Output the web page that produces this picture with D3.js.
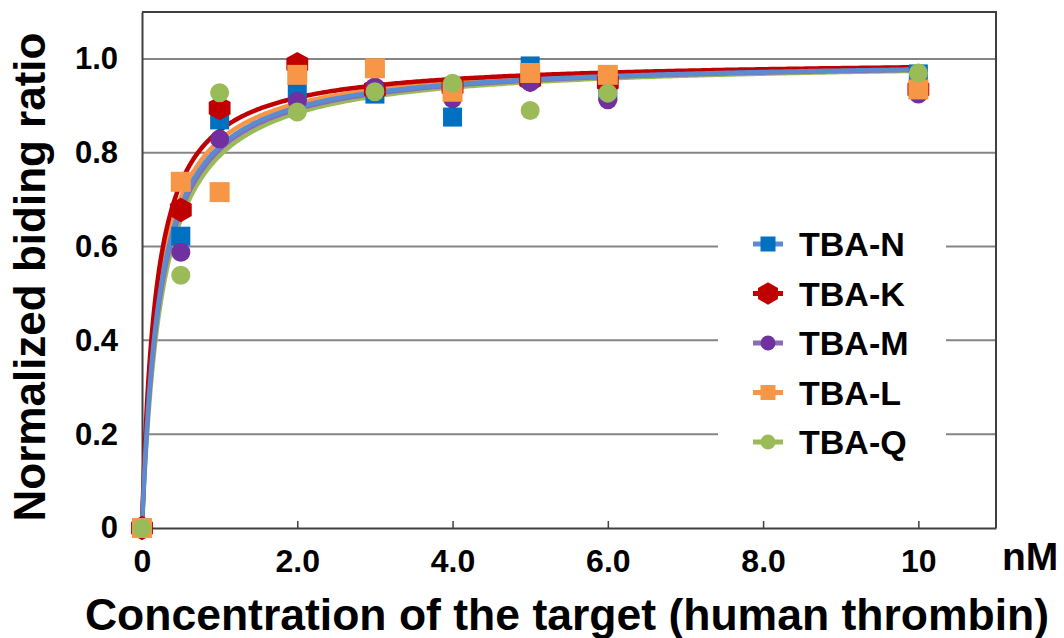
<!DOCTYPE html>
<html>
<head>
<meta charset="utf-8">
<script src="https://cdn.jsdelivr.net/npm/d3@7"></script>
<style>
  html, body { margin: 0; padding: 0; background: #fff; }
  svg { display: block; font-family: "Liberation Sans", Arial, sans-serif; font-weight: bold; }
</style>
</head>
<body>
<svg id="chart" width="1064" height="638"></svg>
<script>
// Thrombin concentration (nM)
const concentrations = [0, 0.5, 1, 2, 3, 4, 5, 6, 10];

// Normalized binding ratio per aptamer
const tbaN = [0, 0.622, 0.870, 0.929, 0.925, 0.876, 0.985, 0.930, 0.968];
const tbaK = [0, 0.678, 0.895, 0.989, 0.935, 0.940, 0.955, 0.950, 0.935];
const tbaM = [0, 0.588, 0.829, 0.910, 0.940, 0.915, 0.950, 0.913, 0.925];
const tbaL = [0, 0.738, 0.716, 0.966, 0.980, 0.930, 0.970, 0.966, 0.935];
const tbaQ = [0, 0.539, 0.928, 0.887, 0.930, 0.948, 0.890, 0.927, 0.970];

const seriesNames = ["TBA-N", "TBA-K", "TBA-M", "TBA-L", "TBA-Q"];

// One-site binding fit parameters: y = Bmax * x / (Kd + x)
const fitBmax = [1.0, 1.0, 1.0, 1.0, 1.0];
const fitKd   = [0.23, 0.18, 0.24, 0.21, 0.26];

const xTicks = [0, 2, 4, 6, 8, 10];
const xTickLabels = ["0", "2.0", "4.0", "6.0", "8.0", "10"];
const yTicks = [0, 0.2, 0.4, 0.6, 0.8, 1.0];
const yTickLabels = ["0", "0.2", "0.4", "0.6", "0.8", "1.0"];

const styles = [
  { marker: "#0070C0", line: "#5B8BD0", shape: "square", size: 19 },
  { marker: "#C00000", line: "#C00000", shape: "hexagon", size: 23 },
  { marker: "#7030A0", line: "#8A6BB8", shape: "circle", size: 19 },
  { marker: "#F79646", line: "#F79646", shape: "square", size: 20 },
  { marker: "#9BBB59", line: "#9BBB59", shape: "circle", size: 19 }
];

const seriesValues = [tbaN, tbaK, tbaM, tbaL, tbaQ];
const series = seriesNames.map((name, i) => ({
  name,
  values: concentrations.map((c, j) => ({ x: c, y: seriesValues[i][j] })),
  bmax: fitBmax[i],
  kd: fitKd[i],
  style: styles[i]
}));

const svg = d3.select("#chart");
const plot = { left: 142, right: 996, top: 12, bottom: 528 };

const x = d3.scaleLinear().domain([0, 11]).range([plot.left, plot.right]);
const y = d3.scaleLinear().domain([0, 1.1]).range([plot.bottom, plot.top]);

// Horizontal gridlines
svg.append("g")
  .selectAll("line")
  .data(yTicks.filter(d => d > 0))
  .join("line")
  .attr("x1", plot.left).attr("x2", plot.right)
  .attr("y1", d => y(d)).attr("y2", d => y(d))
  .attr("stroke", "#858585").attr("stroke-width", 2);

// Plot frame (top and right)
svg.append("path")
  .attr("d", `M${plot.left},${plot.top}H${plot.right}V${plot.bottom}`)
  .attr("fill", "none").attr("stroke", "#404040").attr("stroke-width", 2);

// X axis with inward ticks
const xAxis = d3.axisBottom(x)
  .tickValues(xTicks)
  .tickSizeInner(-7)
  .tickSizeOuter(0)
  .tickFormat((d, i) => xTickLabels[i]);
const gx = svg.append("g").attr("transform", `translate(0,${plot.bottom})`).call(xAxis);
gx.select(".domain").attr("stroke", "#404040").attr("stroke-width", 2);
gx.selectAll(".tick line").attr("stroke", "#404040").attr("stroke-width", 1.5);
gx.selectAll(".tick").filter(d => d === 0).select("line").remove();
gx.selectAll(".tick text")
  .attr("y", 44).attr("dy", null)
  .attr("fill", "#000")
  .style("font-size", "32px").style("font-weight", "bold")
  .style("font-family", '"Liberation Sans", Arial, sans-serif');

// Y axis
const yAxis = d3.axisLeft(y)
  .tickValues(yTicks)
  .tickSize(0)
  .tickPadding(24)
  .tickFormat((d, i) => yTickLabels[i]);
const gy = svg.append("g").attr("transform", `translate(${plot.left},0)`).call(yAxis);
gy.select(".domain").attr("stroke", "#404040").attr("stroke-width", 2);
gy.selectAll(".tick text")
  .attr("fill", "#000")
  .style("font-size", "31px").style("font-weight", "bold")
  .style("font-family", '"Liberation Sans", Arial, sans-serif');

// Legend background (covers gridlines)
const legend = { x: 718, y: 214, w: 228, h: 258, rowY0: 244, rowStep: 49.5 };
svg.append("rect")
  .attr("x", legend.x).attr("y", legend.y)
  .attr("width", legend.w).attr("height", legend.h)
  .attr("fill", "#fff");

// Fitted binding curves
const curveX = d3.range(0, 401).map(i => 10 * Math.pow(i / 400, 2));
const line = d3.line().x(d => x(d.x)).y(d => y(d.y));
svg.append("g")
  .selectAll("path")
  .data(series.slice().reverse())
  .join("path")
  .attr("d", s => line(curveX.map(c => ({ x: c, y: s.bmax * c / (s.kd + c) }))))
  .attr("fill", "none")
  .attr("stroke", s => s.style.line)
  .attr("stroke-width", 4.5)
  .attr("stroke-linejoin", "round");

// Marker drawing helper
function hexPath(w, h) {
  const hw = w / 2, hh = h / 2, q = h / 4;
  return `M0,${-hh}L${hw},${-q}L${hw},${q}L0,${hh}L${-hw},${q}L${-hw},${-q}Z`;
}
function drawMarker(g, style, size) {
  if (style.shape === "square") {
    g.append("rect")
      .attr("x", -size / 2).attr("y", -size / 2)
      .attr("width", size).attr("height", size)
      .attr("fill", style.marker);
  } else if (style.shape === "circle") {
    g.append("circle").attr("r", size / 2).attr("fill", style.marker);
  } else {
    g.append("path").attr("d", hexPath(size * 0.95, size * 1.06)).attr("fill", style.marker);
  }
}

// Data markers
series.forEach(s => {
  const g = svg.append("g");
  s.values.forEach(d => {
    const m = g.append("g").attr("transform", `translate(${x(d.x)},${y(d.y)})`);
    drawMarker(m, s.style, s.style.size);
  });
});

// Legend entries
series.forEach((s, i) => {
  const cy = legend.rowY0 + i * legend.rowStep;
  svg.append("line")
    .attr("x1", 753).attr("x2", 783).attr("y1", cy).attr("y2", cy)
    .attr("stroke", s.style.line).attr("stroke-width", 5);
  const m = svg.append("g").attr("transform", `translate(768,${cy})`);
  drawMarker(m, s.style, s.style.shape === "hexagon" ? 21 : 15);
  svg.append("text")
    .attr("x", 799).attr("y", cy + 12)
    .attr("fill", "#000")
    .style("font-size", "34px")
    .text(s.name);
});

// Axis titles
svg.append("text")
  .attr("x", 1002).attr("y", 570)
  .style("font-size", "39px")
  .text("nM");

svg.append("text")
  .attr("x", 567).attr("y", 630)
  .attr("text-anchor", "middle")
  .style("font-size", "44.5px")
  .text("Concentration of the target (human thrombin)");

svg.append("text")
  .attr("transform", "translate(45,277) rotate(-90)")
  .attr("text-anchor", "middle")
  .style("font-size", "44px")
  .text("Normalized biding ratio");
</script>
</body>
</html>
